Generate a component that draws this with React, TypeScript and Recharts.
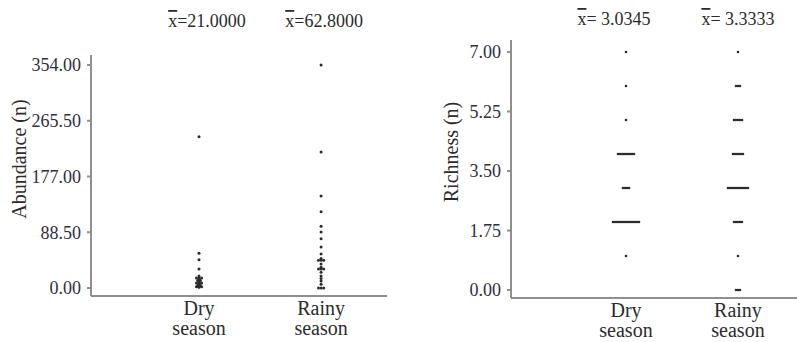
import React from 'react';
import { ScatterChart, Scatter, XAxis, YAxis } from 'recharts';

const categories = ['Dry season', 'Rainy season'];

const dryAbundance = [240, 55, 45, 30, 19, 16, 16, 16, 13, 12, 12, 9, 8, 8, 8, 6, 5, 4, 4, 3, 2, 2, 2, 1];
const rainyAbundance = [354, 216, 146, 121, 98, 89, 78, 65, 54, 47, 44, 44, 44, 38, 33, 30, 30, 30, 25, 19, 15, 11, 6, 0, 0, 0];
const abundanceTicks = [0, 88.5, 177, 265.5, 354];
const abundanceMeans = ['21.0000', '62.8000'];

const dryRichness = [1, 2, 2, 2, 2, 2, 2, 2, 2, 2, 2, 2, 2, 2, 2, 3, 3, 3, 3, 4, 4, 4, 4, 4, 4, 4, 4, 4, 5, 6, 7];
const rainyRichness = [0, 0, 0, 1, 2, 2, 2, 2, 2, 3, 3, 3, 3, 3, 3, 3, 3, 3, 3, 3, 4, 4, 4, 4, 4, 4, 5, 5, 5, 5, 5, 6, 6, 6, 7];
const richnessTicks = [0, 1.75, 3.5, 5.25, 7];
const richnessMeans = [' 3.0345', ' 3.3333'];

const FONT = "'Liberation Serif', 'DejaVu Serif', serif";
const AXIS = '#8f8f8f';
const INK = '#2b2b2b';

// repeated values get laid side by side, like the original dot plot
function spread(values: number[], cat: number) {
  const counts: Record<number, number> = {};
  values.forEach(v => (counts[v] = (counts[v] || 0) + 1));
  const seen: Record<number, number> = {};
  return values.map(v => {
    seen[v] = (seen[v] ?? -1) + 1;
    return { x: cat, y: v, off: seen[v] - (counts[v] - 1) / 2 };
  });
}

// category name under the axis, mean label above the plot
const catTick = (means: string[], meanShift: number[], meanBaseline: number, labelBaseline: number) => ({ x, payload }: any) => {
  const i = payload.value - 1;
  const [a, b] = categories[i].split(' ');
  return (
    <g style={{ fontFamily: FONT }} fill={INK}>
      <text x={x + meanShift[i]} y={meanBaseline} textAnchor="middle" fontSize={18}>
        <tspan style={{ textDecoration: 'overline' }}>x</tspan>
        <tspan>={means[i]}</tspan>
      </text>
      <text x={x} y={labelBaseline} textAnchor="middle" fontSize={20}>
        {a}
      </text>
      <text x={x} y={labelBaseline + 20} textAnchor="middle" fontSize={20}>
        {b}
      </text>
    </g>
  );
};

const dot = (step: number, r: number) => (p: any) => (
  <circle cx={p.cx + p.payload.off * step} cy={p.cy} r={r} fill={INK} />
);

interface PanelProps {
  width: number;
  right: number;
  yWidth: number;
  top: number;
  bottom: number;
  xDomain: [number, number];
  yDomain: [number, number];
  ticks: number[];
  means: string[];
  meanShift: number[];
  meanBaseline: number;
  title: string;
  titlePos: [number, number];
  dry: number[];
  rainy: number[];
  step: number;
  r: number;
}

function Panel(p: PanelProps) {
  return (
    <ScatterChart width={p.width} height={342} margin={{ top: p.top, right: p.right, bottom: 0, left: 0 }}>
      <XAxis
        dataKey="x"
        type="number"
        domain={p.xDomain}
        ticks={[1, 2]}
        height={342 - p.bottom}
        stroke={AXIS}
        strokeWidth={2}
        tickLine={false}
        tick={catTick(p.means, p.meanShift, p.meanBaseline, p.bottom + 19)}
      />
      <YAxis
        dataKey="y"
        type="number"
        domain={p.yDomain}
        ticks={p.ticks}
        width={p.yWidth}
        stroke={AXIS}
        strokeWidth={2}
        tickSize={4}
        tickMargin={6}
        tickFormatter={(v: number) => v.toFixed(2)}
        tick={{ fill: '#2e2e3e', fontSize: 18, style: { fontFamily: FONT } }}
        label={{
          content: () => (
            <text
              transform={`translate(${p.titlePos[0]},${p.titlePos[1]}) rotate(-90)`}
              textAnchor="middle"
              style={{ fontFamily: FONT }}
              fontSize={20}
              fill={INK}
            >
              {p.title}
            </text>
          ),
        }}
      />
      <Scatter data={spread(p.dry, 1)} shape={dot(p.step, p.r)} isAnimationActive={false} />
      <Scatter data={spread(p.rainy, 2)} shape={dot(p.step, p.r)} isAnimationActive={false} />
    </ScatterChart>
  );
}

export default function App() {
  return (
    <div style={{ position: 'absolute', left: 0, top: 0, width: 797, height: 342, background: '#fff', fontFamily: FONT }}>
      <div style={{ position: 'absolute', left: 0, top: 0 }}>
        <Panel
          width={400}
          right={13}
          yWidth={91}
          top={55}
          bottom={296}
          xDomain={[0.115, 2.54]}
          yDomain={[-12.7, 369.9]}
          ticks={abundanceTicks}
          means={abundanceMeans}
          meanShift={[8, 3]}
          meanBaseline={27}
          title="Abundance (n)"
          titlePos={[26, 159]}
          dry={dryAbundance}
          rainy={rainyAbundance}
          step={2.6}
          r={1.5}
        />
      </div>
      <div style={{ position: 'absolute', left: 400, top: 0 }}>
        <Panel
          width={397}
          right={0}
          yWidth={111}
          top={40}
          bottom={298}
          xDomain={[-0.027, 2.527]}
          yDomain={[-0.235, 7.353]}
          ticks={richnessTicks}
          means={richnessMeans}
          meanShift={[-12, 0]}
          meanBaseline={25}
          title="Richness (n)"
          titlePos={[58, 152]}
          dry={dryRichness}
          rainy={rainyRichness}
          step={2}
          r={1.3}
        />
      </div>
    </div>
  );
}
